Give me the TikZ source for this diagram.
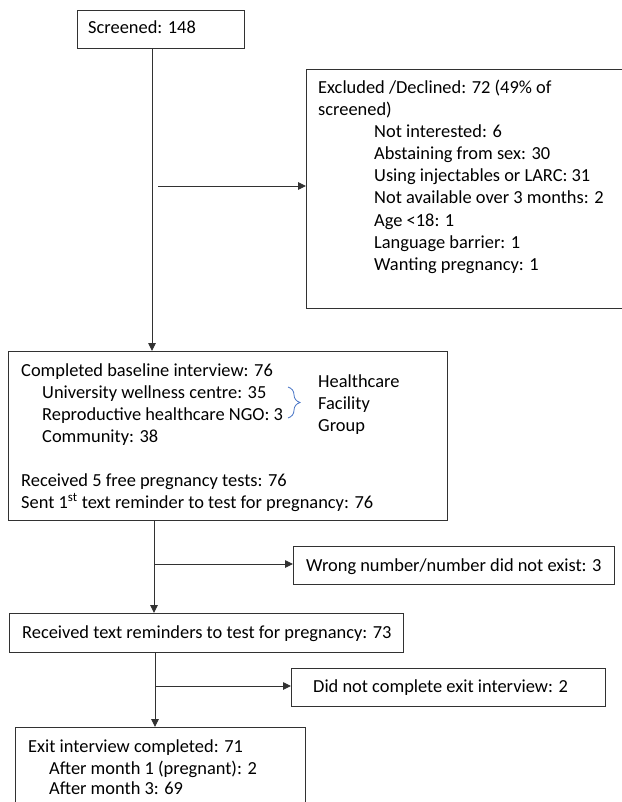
\documentclass[tikz,border=0pt]{standalone}
\usepackage{fontspec}
\setmainfont{Carlito}
\usetikzlibrary{arrows.meta,decorations.pathreplacing}
\definecolor{bracecol}{RGB}{68,114,196}
\definecolor{linecol}{RGB}{50,50,50}
\begin{document}
\begin{tikzpicture}[x=1pt,y=-1pt,
  box/.style={draw=linecol, line width=0.9pt, rectangle, inner sep=0pt, anchor=north west},
  txt/.style={anchor=base west, inner sep=0pt, font=\fontsize{18.4}{22}\selectfont},
  arr/.style={draw=linecol, line width=0.9pt, -{Triangle[length=8pt,width=7.5pt]}}]
\useasboundingbox (0,0) rectangle (621,802);
% boxes
\node[box, minimum width=167pt, minimum height=38pt] (scr) at (77,10) {};
\node[box, minimum width=317pt, minimum height=239pt] (exc) at (306,69) {};
\node[box, minimum width=439pt, minimum height=169pt] (base) at (8,351) {};
\node[box, minimum width=321pt, minimum height=38pt] (wrong) at (293,546) {};
\node[box, minimum width=394pt, minimum height=39pt] (recv) at (9,613) {};
\node[box, minimum width=314pt, minimum height=38pt] (dnc) at (291,668) {};
\node[box, minimum width=290pt, minimum height=90pt] (exit) at (15,727) {};
% texts
\node[txt] (t0) at (88,34) {Screened: 148};
\node[txt] (e1) at (318,94) {Excluded /Declined: 72 (49\% of};
\node[txt] (e2) at (318,116) {screened)};
\node[txt] (e3) at (374,138) {Not interested: 6};
\node[txt] (e4) at (374,160) {Abstaining from sex: 30};
\node[txt] (e5) at (374,182) {Using injectables or LARC: 31};
\node[txt] (e6) at (374,204) {Not available over 3 months: 2};
\node[txt] (e7) at (374,226) {Age <18: 1};
\node[txt] (e8) at (374,248) {Language barrier: 1};
\node[txt] (e9) at (374,270) {Wanting pregnancy: 1};
\node[txt] (b1) at (21,376) {Completed baseline interview: 76};
\node[txt] (b2) at (42,398) {University wellness centre: 35};
\node[txt] (b3) at (42,420) {Reproductive healthcare NGO: 3};
\node[txt] (b4) at (42,442) {Community: 38};
\node[txt] (b5) at (21,486) {Received 5 free pregnancy tests: 76};
\node[txt] (b6) at (21,508) {Sent 1\textsuperscript{st} text reminder to test for pregnancy: 76};
\node[txt] (h1) at (318,387) {Healthcare};
\node[txt] (h2) at (318,409) {Facility};
\node[txt] (h3) at (318,431) {Group};
\node[txt] (w1) at (306,571) {Wrong number/number did not exist: 3};
\node[txt] (r1) at (22,638) {Received text reminders to test for pregnancy: 73};
\node[txt] (d1) at (313,692) {Did not complete exit interview: 2};
\node[txt] (x1) at (28,752) {Exit interview completed: 71};
\node[txt] (x2) at (49,774) {After month 1 (pregnant): 2};
\node[txt] (x3) at (49,794) {After month 3: 69};
% brace
\coordinate (br1) at (288,387);
\coordinate (br2) at (288,418);
\draw[bracecol, line width=0.8pt, decorate, decoration={brace, amplitude=12pt, aspect=0.5}] (br1) -- (br2);
% connectors
\coordinate (v1) at (152,0);
\draw[arr] (scr.south -| v1) -- (base.north -| v1);
\coordinate (c1) at (158,186);
\draw[arr] (c1) -- (c1 -| exc.west);
\coordinate (v2) at (154,564);
\draw[arr] (base.south -| v2) -- (recv.north -| v2);
\draw[arr] (v2) -- (v2 -| wrong.west);
\coordinate (v3) at (155,686);
\draw[arr] (recv.south -| v3) -- (exit.north -| v3);
\draw[arr] (v3) -- (v3 -| dnc.west);
\end{tikzpicture}
\end{document}
